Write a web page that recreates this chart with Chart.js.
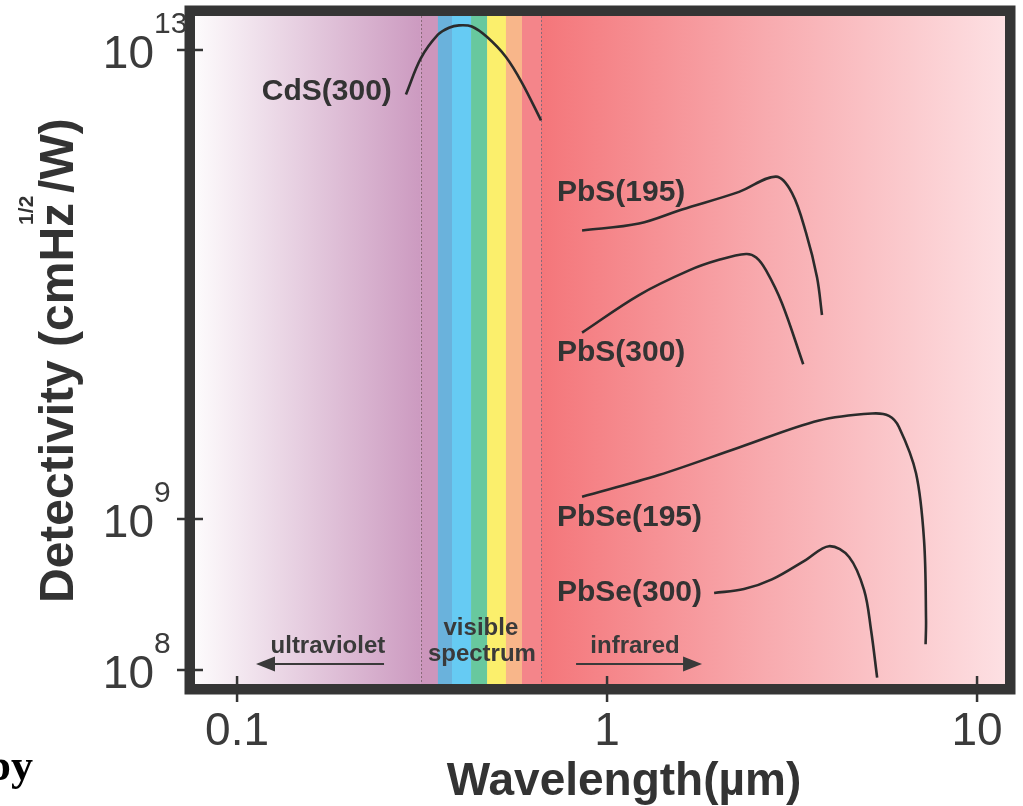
<!DOCTYPE html>
<html>
<head>
<meta charset="utf-8">
<script src="https://cdn.jsdelivr.net/npm/chart.js@4.4.1/dist/chart.umd.min.js"></script>
<style>
  html, body { margin: 0; padding: 0; background: #fff; }
  canvas { display: block; }
</style>
</head>
<body>
<canvas id="detectivity-chart" width="1023" height="806"></canvas>
<script>
// wavelength in um, detectivity as log10(D*)
const cds300Wavelength = [0.286, 0.314, 0.349, 0.374, 0.398, 0.431, 0.474, 0.533, 0.589, 0.663];
const cds300LogD = [12.62, 12.93, 13.13, 13.19, 13.21, 13.20, 13.11, 12.94, 12.72, 12.40];

const pbs195Wavelength = [0.856, 1.22, 1.595, 2.274, 2.862, 3.162, 3.45, 3.695, 3.81];
const pbs195LogD = [11.46, 11.52, 11.64, 11.79, 11.92, 11.78, 11.44, 11.06, 10.74];

const pbs300Wavelength = [0.856, 1.22, 1.666, 2.007, 2.375, 2.53, 2.69, 2.97, 3.39];
const pbs300LogD = [10.59, 10.91, 11.12, 11.21, 11.26, 11.23, 11.12, 10.84, 10.32];

const pbse195Wavelength = [0.856, 1.38, 2.274, 3.74, 5.2, 5.78, 6.15, 6.84, 7.19, 7.28, 7.26];
const pbse195LogD = [9.19, 9.375, 9.61, 9.84, 9.90, 9.88, 9.785, 9.39, 8.86, 8.33, 8.17];

const pbse300Wavelength = [1.947, 2.345, 2.79, 3.45, 3.98, 4.51, 4.95, 5.17, 5.37];
const pbse300LogD = [8.51, 8.536, 8.60, 8.73, 8.82, 8.748, 8.53, 8.265, 7.95];

const curveNames = ["CdS(300)", "PbS(195)", "PbS(300)", "PbSe(195)", "PbSe(300)"];
const labelWavelength = [0.262, 0.732, 0.732, 0.732, 0.732];
const labelLogD = [12.64, 11.78, 10.42, 9.01, 8.51];

const xTicks = [0.1, 1, 10];
const yTickExponents = [8, 9, 13];

// visible spectrum band edges (um) and colours
const bandEdges = [0.314, 0.349, 0.381, 0.429, 0.474, 0.533, 0.589, 0.663];
const bandColors = ["#cc96bc", "#6ab2dc", "#66cbf3", "#68c89e", "#fbef6c", "#f8b68a", "#f4858a"];

// the printed axis squeezes the decades above 10^9
const upperDecade = 117.25 / 151;
function toAxis(e) {
  return e <= 9 ? e : 9 + (e - 9) * upperDecade;
}

function points(w, d) {
  return w.map((v, i) => ({ x: v, y: toAxis(d[i]) }));
}

const FONT = '"Liberation Sans", Arial, Helvetica, sans-serif';
const INK = "#333333";

const backgroundPlugin = {
  id: "spectrumBackground",
  beforeDatasetsDraw(chart) {
    const { ctx, chartArea: a, scales } = chart;
    const x = scales.x;
    ctx.save();
    const uvEnd = x.getPixelForValue(bandEdges[0]);
    let g = ctx.createLinearGradient(a.left, 0, uvEnd, 0);
    g.addColorStop(0, "#fdfbfc");
    g.addColorStop(1, "#cc9ac0");
    ctx.fillStyle = g;
    ctx.fillRect(a.left, a.top, uvEnd - a.left, a.height);

    for (let i = 0; i < bandColors.length; i++) {
      const x0 = x.getPixelForValue(bandEdges[i]);
      const x1 = x.getPixelForValue(bandEdges[i + 1]);
      ctx.fillStyle = bandColors[i];
      ctx.fillRect(x0, a.top, x1 - x0 + 0.5, a.height);
    }

    const irStart = x.getPixelForValue(bandEdges[bandEdges.length - 1]);
    g = ctx.createLinearGradient(irStart, 0, a.right, 0);
    g.addColorStop(0, "#f4767a");
    g.addColorStop(0.5, "#f8acb0");
    g.addColorStop(1, "#fde0e3");
    ctx.fillStyle = g;
    ctx.fillRect(irStart, a.top, a.right - irStart, a.height);

    // dotted limits of the visible range
    ctx.strokeStyle = "#8a6a78";
    ctx.lineWidth = 1;
    ctx.setLineDash([2, 2]);
    [bandEdges[0], bandEdges[bandEdges.length - 1]].forEach(w => {
      const px = Math.round(x.getPixelForValue(w)) + 0.5;
      ctx.beginPath();
      ctx.moveTo(px, a.top);
      ctx.lineTo(px, a.bottom);
      ctx.stroke();
    });
    ctx.restore();
  }
};

function arrow(ctx, x0, x1, y) {
  const dir = x1 > x0 ? 1 : -1;
  ctx.beginPath();
  ctx.moveTo(x0, y);
  ctx.lineTo(x1 - dir * 16, y);
  ctx.stroke();
  ctx.beginPath();
  ctx.moveTo(x1, y);
  ctx.lineTo(x1 - dir * 19, y - 7.5);
  ctx.lineTo(x1 - dir * 19, y + 7.5);
  ctx.closePath();
  ctx.fill();
}

const framePlugin = {
  id: "frameAndText",
  afterDatasetsDraw(chart) {
    const { ctx, chartArea: a, scales } = chart;
    const x = scales.x, y = scales.y;
    ctx.save();

    // curve labels
    ctx.fillStyle = INK;
    ctx.font = "bold 30px " + FONT;
    ctx.textBaseline = "middle";
    curveNames.forEach((name, i) => {
      ctx.textAlign = i === 0 ? "right" : "left";
      ctx.fillText(name, x.getPixelForValue(labelWavelength[i]), y.getPixelForValue(toAxis(labelLogD[i])));
    });

    // region labels and arrows
    ctx.fillStyle = "#3a3a3a";
    ctx.strokeStyle = "#3a3a3a";
    ctx.lineWidth = 2;
    ctx.font = "bold 24px " + FONT;
    ctx.textAlign = "center";
    ctx.textBaseline = "alphabetic";
    ctx.fillText("ultraviolet", x.getPixelForValue(0.176), y.getPixelForValue(8.113));
    ctx.fillText("visible", x.getPixelForValue(0.456), y.getPixelForValue(8.232));
    ctx.fillText("spectrum", x.getPixelForValue(0.459), y.getPixelForValue(8.06));
    ctx.fillText("infrared", x.getPixelForValue(1.19), y.getPixelForValue(8.113));
    const arrowY = y.getPixelForValue(8.04);
    arrow(ctx, x.getPixelForValue(0.2496), x.getPixelForValue(0.1125), arrowY);
    arrow(ctx, x.getPixelForValue(0.8246), x.getPixelForValue(1.806), arrowY);

    // thick frame
    ctx.strokeStyle = "#353535";
    ctx.lineWidth = 10.5;
    ctx.strokeRect(a.left - 5.25, a.top - 5.25, a.width + 10.5, a.height + 10.5);

    // ticks
    ctx.lineWidth = 2.5;
    yTickExponents.forEach(e => {
      const py = y.getPixelForValue(toAxis(e));
      ctx.beginPath();
      ctx.moveTo(a.left - 18, py);
      ctx.lineTo(a.left + 8, py);
      ctx.stroke();
    });
    xTicks.forEach(v => {
      const px = x.getPixelForValue(v);
      ctx.beginPath();
      ctx.moveTo(px, a.bottom - 8);
      ctx.lineTo(px, a.bottom + 18);
      ctx.stroke();
    });

    // tick labels
    ctx.fillStyle = "#3b3b3b";
    yTickExponents.forEach(e => {
      const py = y.getPixelForValue(toAxis(e));
      ctx.font = "46px " + FONT;
      ctx.textAlign = "right";
      ctx.fillText("10", a.left - 41, py + 18);
      ctx.font = "30px " + FONT;
      ctx.textAlign = "left";
      ctx.fillText(String(e), a.left - 41, py - 17);
    });
    ctx.font = "46px " + FONT;
    ctx.textAlign = "center";
    xTicks.forEach(v => {
      ctx.fillText(String(v), x.getPixelForValue(v), a.bottom + 61);
    });

    // axis titles
    ctx.fillStyle = INK;
    ctx.font = "bold 46px " + FONT;
    ctx.fillText("Wavelength(\u00b5m)", 624, 795);

    ctx.translate(73, 603);
    ctx.rotate(-Math.PI / 2);
    ctx.textAlign = "left";
    ctx.font = "bold 48px " + FONT;
    const part1 = "Detectivity (cmHz";
    const w1 = ctx.measureText(part1).width;
    ctx.fillText(part1, 0, 0);
    ctx.fillText("/W)", w1 + 10, 0);
    ctx.font = "bold 21px " + FONT;
    ctx.fillText("1/2", w1 - 22, -40);
    ctx.restore();

    // clipped text from the page below
    ctx.save();
    ctx.fillStyle = "#000";
    ctx.font = 'bold 44px "Liberation Serif", "Times New Roman", serif';
    ctx.textAlign = "right";
    ctx.fillText("py", 33, 780);
    ctx.restore();
  }
};

const lineStyle = {
  borderColor: "#2b2b2b",
  borderWidth: 2.6,
  pointRadius: 0,
  fill: false,
  tension: 0.35
};

new Chart(document.getElementById("detectivity-chart"), {
  type: "line",
  data: {
    datasets: [
      { label: curveNames[0], data: points(cds300Wavelength, cds300LogD), ...lineStyle },
      { label: curveNames[1], data: points(pbs195Wavelength, pbs195LogD), ...lineStyle },
      { label: curveNames[2], data: points(pbs300Wavelength, pbs300LogD), ...lineStyle },
      { label: curveNames[3], data: points(pbse195Wavelength, pbse195LogD), ...lineStyle },
      { label: curveNames[4], data: points(pbse300Wavelength, pbse300LogD), ...lineStyle }
    ]
  },
  options: {
    responsive: false,
    animation: false,
    devicePixelRatio: 1,
    layout: { padding: { left: 195, top: 16, right: 18, bottom: 122 } },
    plugins: { legend: { display: false }, tooltip: { enabled: false } },
    scales: {
      x: { type: "logarithmic", min: 0.07697, max: 11.9, bounds: "data", display: false },
      y: { type: "linear", min: 7.9073, max: 12.331, bounds: "data", display: false }
    }
  },
  plugins: [backgroundPlugin, framePlugin]
});
</script>
</body>
</html>
